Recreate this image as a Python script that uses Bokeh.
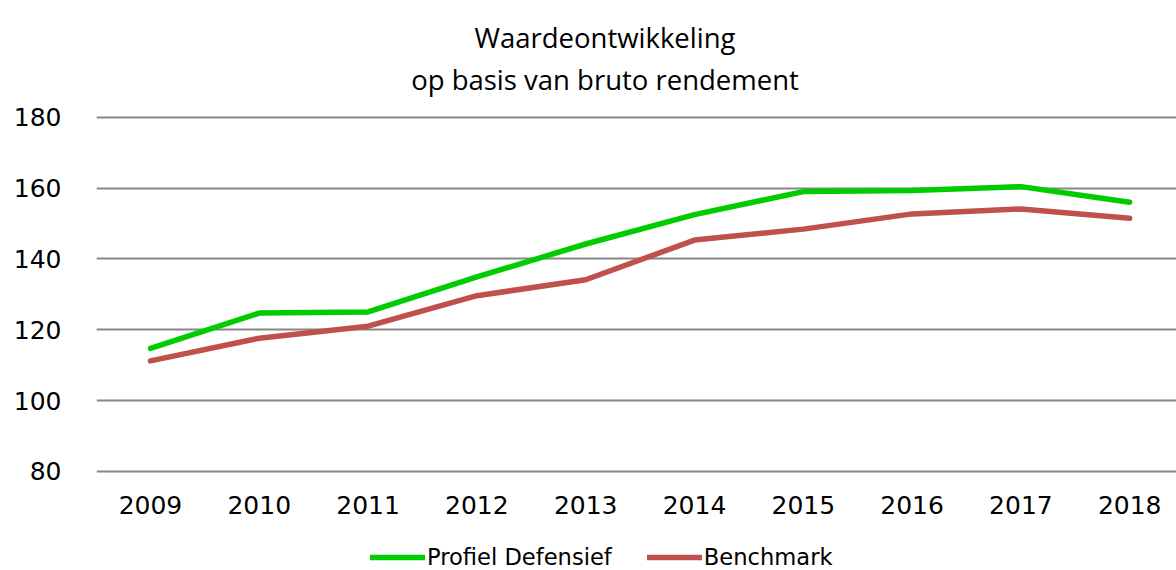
from bokeh.plotting import figure
from bokeh.models import Label, Legend, LegendItem, FixedTicker, Range1d
from bokeh.core.properties import value
from bokeh.embed import file_html
from bokeh.resources import INLINE

# ---- data ----
years = [2009, 2010, 2011, 2012, 2013, 2014, 2015, 2016, 2017, 2018]
year_labels = ["2009", "2010", "2011", "2012", "2013", "2014", "2015", "2016", "2017", "2018"]
profiel_defensief = [114.7, 124.7, 125.0, 134.9, 144.2, 152.5, 159.0, 159.3, 160.4, 156.0]
benchmark = [111.2, 117.6, 121.0, 129.6, 134.1, 145.3, 148.4, 152.7, 154.1, 151.5]
y_ticks = [80, 100, 120, 140, 160, 180]
series_names = ["Profiel Defensief", "Benchmark"]
title_lines = ["Waardeontwikkeling", "op basis van bruto rendement"]

GREEN = "#00CC00"
RED = "#C0504D"

# the frame covers the full canvas height so the title and legend can be
# placed precisely (ticks/grid only exist for 80..180)
p = figure(width=1176, height=570, output_backend="svg", toolbar_location=None,
           x_range=Range1d(2008.504, 2018.43), y_range=Range1d(52.0, 212.96),
           min_border_left=96, min_border_right=0, min_border_top=0,
           min_border_bottom=0, title=None)
p.outline_line_color = None
p.background_fill_color = "white"
p.border_fill_color = "white"

# title lines (screen units relative to the frame's bottom-left)
for text, y in zip(title_lines, [533, 491]):
    p.add_layout(Label(x=508.5, y=y, x_units="screen", y_units="screen", text=text,
                       text_align="center", text_baseline="alphabetic",
                       text_font="Open Sans", text_font_size="27.5px",
                       text_color="#000000"))

r1 = p.line(years, profiel_defensief, line_color=GREEN, line_width=5.5,
            line_cap="round", line_join="round")
r2 = p.line(years, benchmark, line_color=RED, line_width=5.5,
            line_cap="round", line_join="round")

# axes
for ax in (p.xaxis[0], p.yaxis[0]):
    ax.axis_line_color = None
    ax.major_tick_line_color = None
    ax.minor_tick_line_color = None
    ax.major_tick_out = 0
    ax.major_tick_in = 0
    ax.major_label_text_font = "DejaVu Sans"
    ax.major_label_text_font_size = "25px"
    ax.major_label_text_color = "#000000"

p.xaxis.ticker = FixedTicker(ticks=years)
p.xaxis.major_label_overrides = {y: s for y, s in zip(years, year_labels)}
p.xaxis.major_label_standoff = 23
p.xaxis.fixed_location = 79.5
p.yaxis.ticker = FixedTicker(ticks=y_ticks)
p.yaxis.major_label_overrides = {t: str(t) for t in y_ticks}
p.yaxis.major_label_standoff = 35

p.xgrid.visible = False
p.ygrid.grid_line_color = "#868686"
p.ygrid.grid_line_width = 2

legend = Legend(items=[LegendItem(label=series_names[0], renderers=[r1]),
                       LegendItem(label=series_names[1], renderers=[r2])],
                orientation="horizontal", location=(274, 0),
                border_line_color=None, background_fill_alpha=0,
                label_text_font="DejaVu Sans", label_text_font_size="22.6px",
                label_text_color="#000000",
                glyph_width=55, glyph_height=20, label_standoff=2, spacing=35,
                padding=0, margin=0)
p.add_layout(legend, "center")

open("out.html", "w").write(file_html(p, INLINE))
